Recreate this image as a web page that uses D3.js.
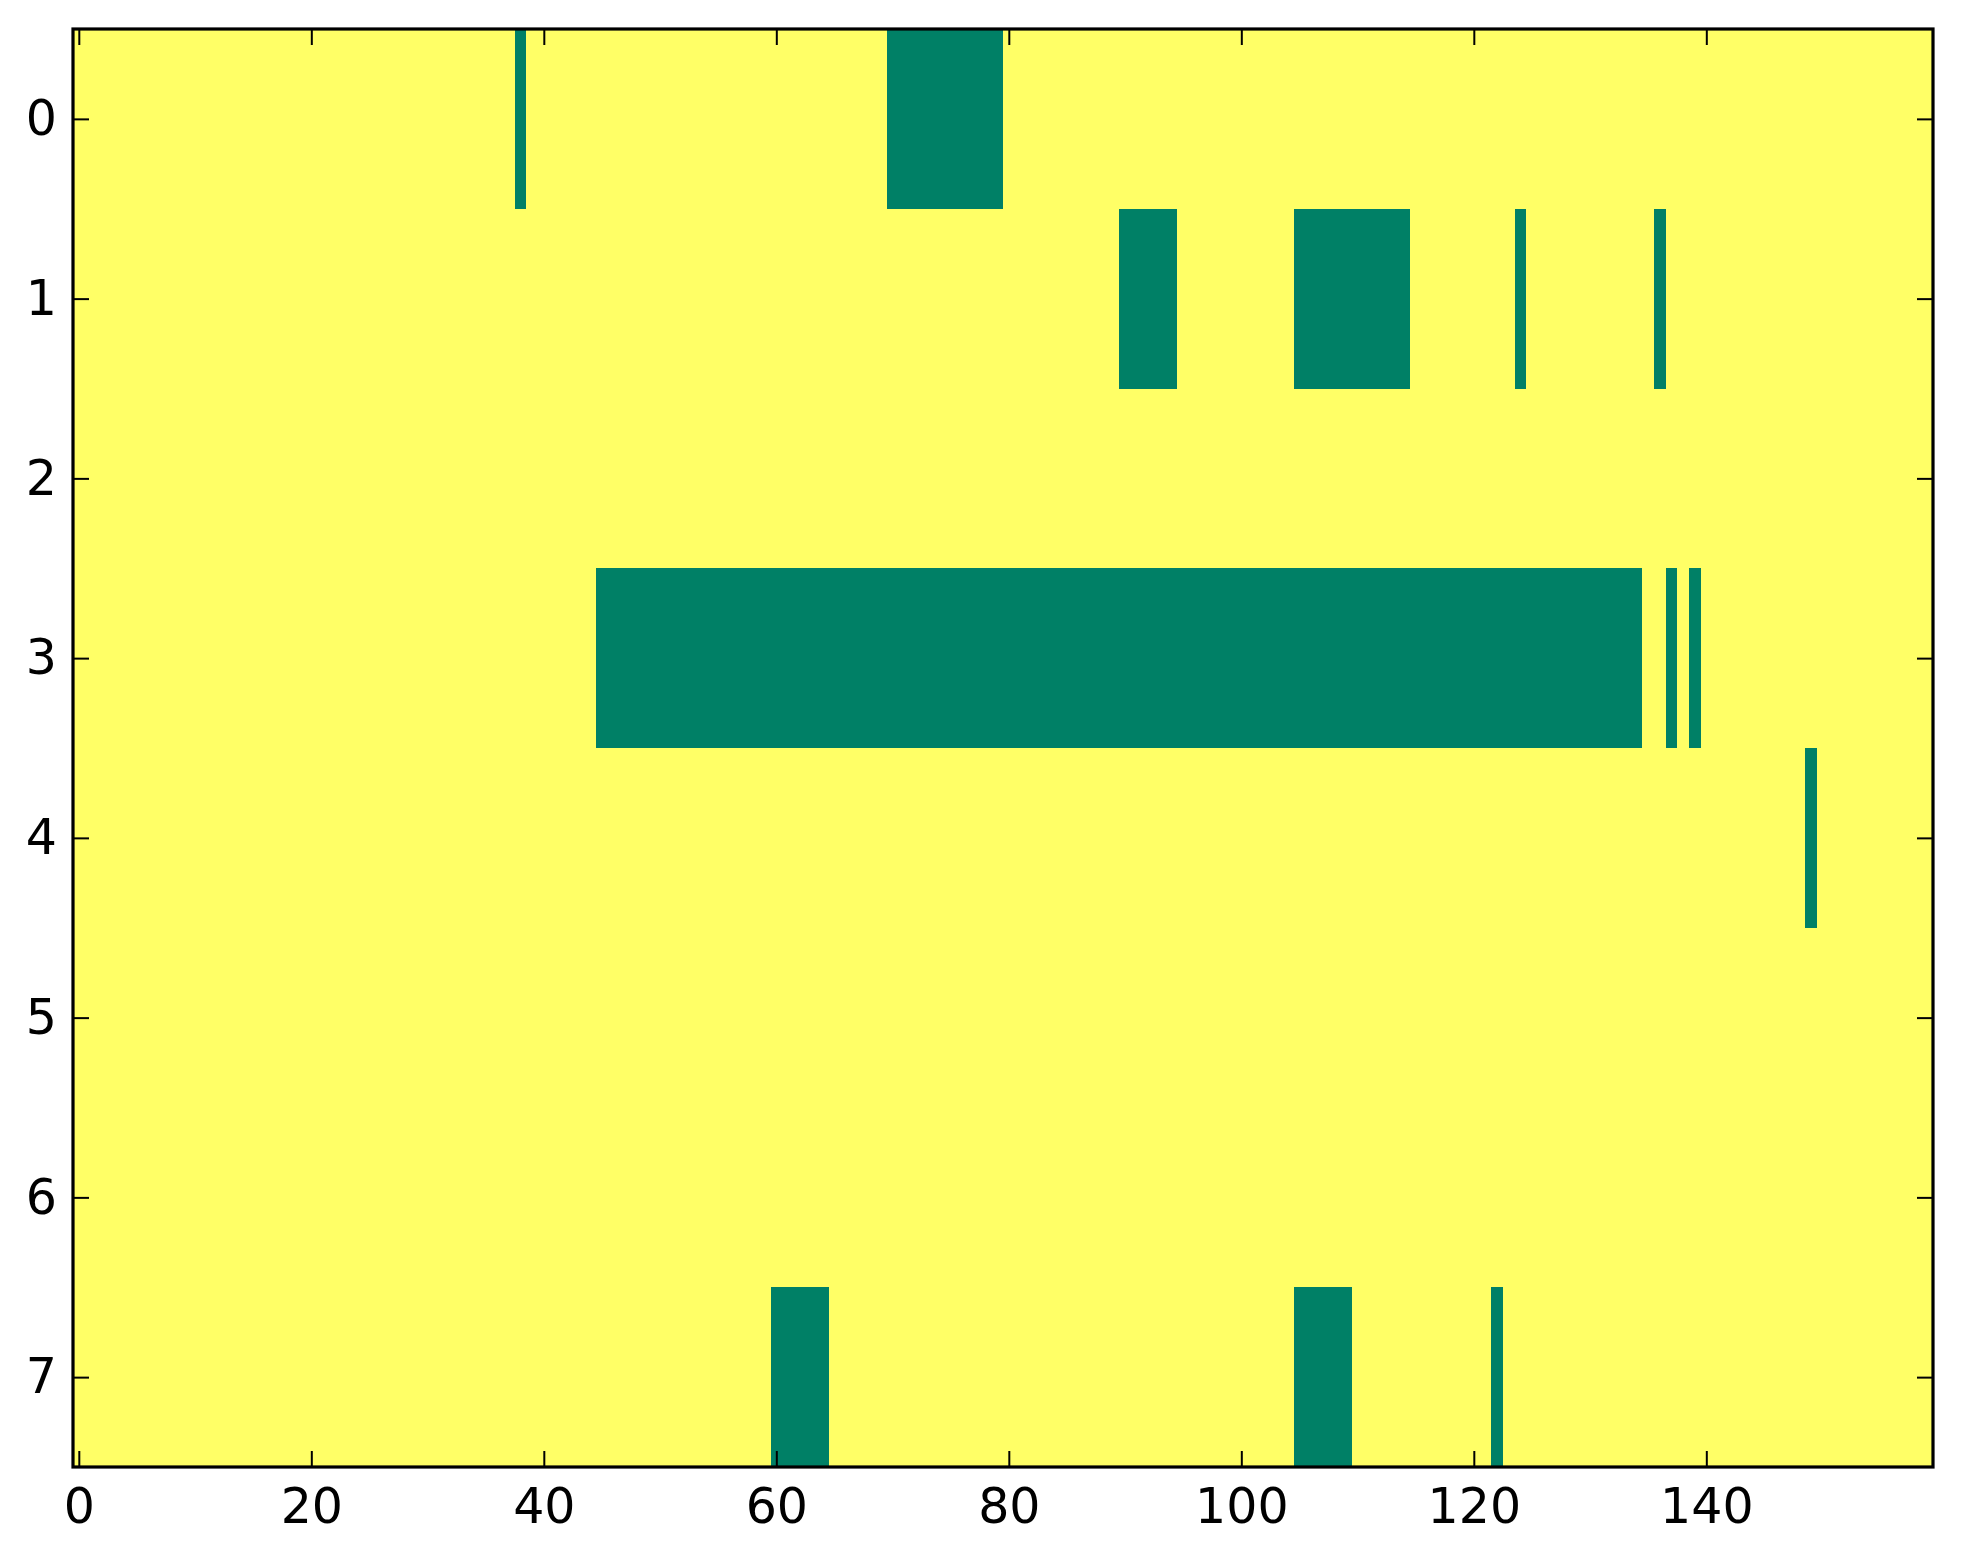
<!DOCTYPE html>
<html>
<head>
<meta charset="utf-8">
<script src="https://cdn.jsdelivr.net/npm/d3@7"></script>
<style>
  html, body { margin: 0; padding: 0; background: #ffffff; }
  svg { display: block; }
  .tick text { font-family: "DejaVu Sans", sans-serif; font-size: 49px; fill: #000; }
</style>
</head>
<body>
<svg id="chart" width="1963" height="1564"></svg>
<script>
// Cell values (0 = low / green, 1 = high / yellow), 160 columns per row, written in groups of 10
const row0 = "1111111111 1111111111 1111111111 1111111101 1111111111 1111111111 1111111111 0000000000 1111111111 1111111111 1111111111 1111111111 1111111111 1111111111 1111111111 1111111111";
const row1 = "1111111111 1111111111 1111111111 1111111111 1111111111 1111111111 1111111111 1111111111 1111111111 0000011111 1111100000 0000011111 1111011111 1111110111 1111111111 1111111111";
const row2 = "1111111111 1111111111 1111111111 1111111111 1111111111 1111111111 1111111111 1111111111 1111111111 1111111111 1111111111 1111111111 1111111111 1111111111 1111111111 1111111111";
const row3 = "1111111111 1111111111 1111111111 1111111111 1111100000 0000000000 0000000000 0000000000 0000000000 0000000000 0000000000 0000000000 0000000000 0000011010 1111111111 1111111111";
const row4 = "1111111111 1111111111 1111111111 1111111111 1111111111 1111111111 1111111111 1111111111 1111111111 1111111111 1111111111 1111111111 1111111111 1111111111 1111111110 1111111111";
const row5 = "1111111111 1111111111 1111111111 1111111111 1111111111 1111111111 1111111111 1111111111 1111111111 1111111111 1111111111 1111111111 1111111111 1111111111 1111111111 1111111111";
const row6 = "1111111111 1111111111 1111111111 1111111111 1111111111 1111111111 1111111111 1111111111 1111111111 1111111111 1111111111 1111111111 1111111111 1111111111 1111111111 1111111111";
const row7 = "1111111111 1111111111 1111111111 1111111111 1111111111 1111111111 0000011111 1111111111 1111111111 1111111111 1111100000 1111111111 1101111111 1111111111 1111111111 1111111111";
const rows = [row0, row1, row2, row3, row4, row5, row6, row7];

const xTicks = [0, 20, 40, 60, 80, 100, 120, 140];
const yTicks = [0, 1, 2, 3, 4, 5, 6, 7];
const colorLow = "#008066";
const colorHigh = "#ffff66";

const nCols = 160, nRows = rows.length;
const cells = [];
rows.forEach((r, i) => {
  r.replace(/\s+/g, "").split("").forEach((v, j) => cells.push({ row: i, col: j, v: +v }));
});

const L = 73, R = 1933, T = 29, B = 1467;
const svg = d3.select("#chart");
const x = d3.scaleLinear().domain([-0.5, nCols - 0.5]).range([L, R]);
const y = d3.scaleLinear().domain([-0.5, nRows - 0.5]).range([T, B]);
const color = d3.scaleOrdinal().domain([0, 1]).range([colorLow, colorHigh]);

svg.append("g").attr("shape-rendering", "crispEdges")
  .selectAll("rect").data(cells).join("rect")
  .attr("x", d => x(d.col - 0.5))
  .attr("y", d => y(d.row - 0.5))
  .attr("width", d => x(d.col + 0.5) - x(d.col - 0.5) + 0.5)
  .attr("height", d => y(d.row + 0.5) - y(d.row - 0.5) + 0.5)
  .attr("fill", d => color(d.v));

function style(g) {
  g.select(".domain").remove();
  g.selectAll(".tick line").attr("stroke", "#000").attr("stroke-width", 2);
}

svg.append("g").attr("transform", `translate(0,${B})`)
  .call(d3.axisBottom(x).tickValues(xTicks).tickSize(-16).tickPadding(21).tickFormat(d3.format("d")))
  .call(style);
svg.append("g").attr("transform", `translate(0,${T})`)
  .call(d3.axisTop(x).tickValues(xTicks).tickSize(-16).tickFormat(""))
  .call(style);
svg.append("g").attr("transform", `translate(${L},0)`)
  .call(d3.axisLeft(y).tickValues(yTicks).tickSize(-16).tickPadding(16).tickFormat(d3.format("d")))
  .call(style);
svg.append("g").attr("transform", `translate(${R},0)`)
  .call(d3.axisRight(y).tickValues(yTicks).tickSize(-16).tickFormat(""))
  .call(style);

svg.selectAll(".tick text").attr("font-family", null).attr("font-size", null);

svg.append("rect")
  .attr("x", L).attr("y", T).attr("width", R - L).attr("height", B - T)
  .attr("fill", "none").attr("stroke", "#000").attr("stroke-width", 3.2);
</script>
</body>
</html>
